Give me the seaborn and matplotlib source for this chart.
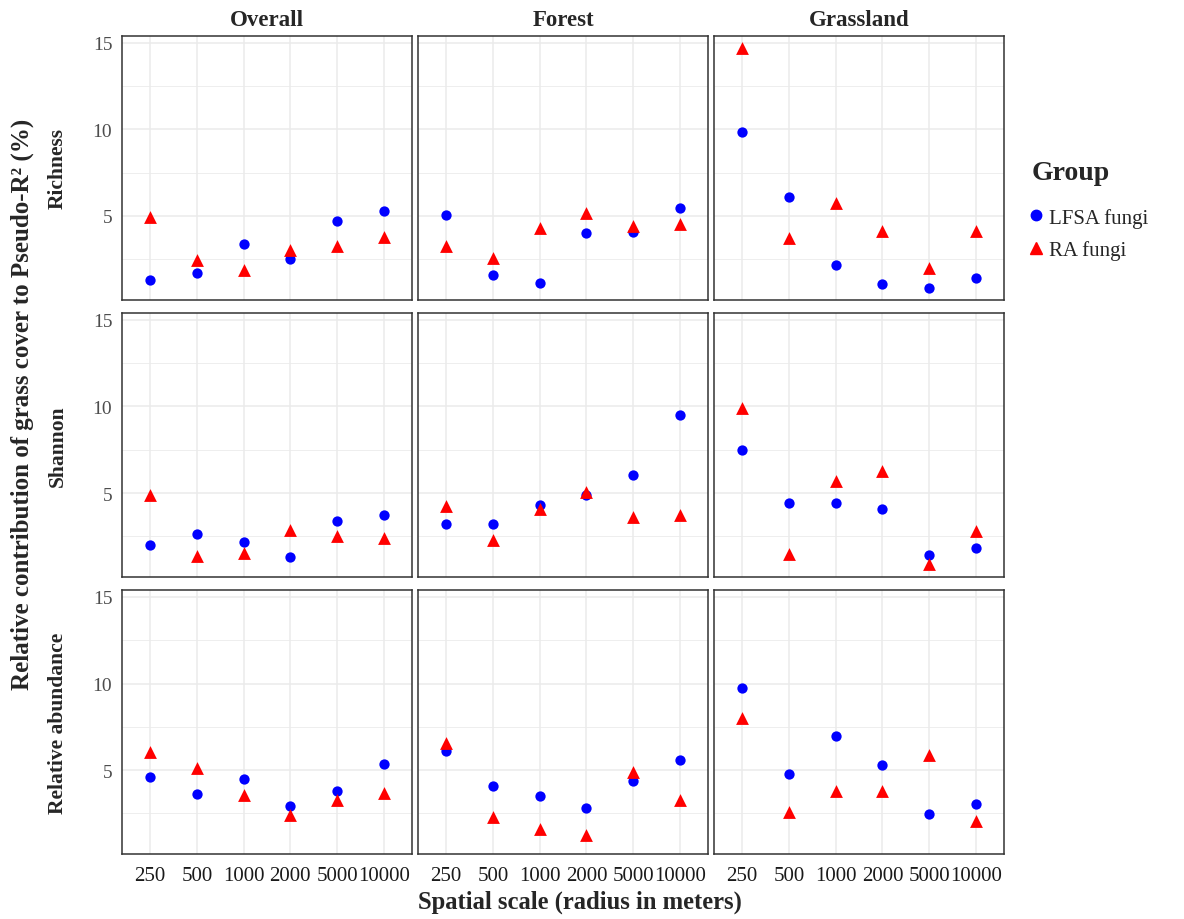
import numpy as np
import pandas as pd
import matplotlib.pyplot as plt
import seaborn as sns
from matplotlib.lines import Line2D

scales = ['250', '500', '1000', '2000', '5000', '10000']
habitats = ['Overall', 'Forest', 'Grassland']
metrics = ['Richness', 'Shannon', 'Relative abundance']
groups = ['LFSA fungi', 'RA fungi']

# values, one row per habitat (Overall, Forest, Grassland)
richness_lfsa = [[1.28, 1.72, 3.38, 2.52, 4.71, 5.27],
                 [5.06, 1.60, 1.13, 4.01, 4.05, 5.48],
                 [9.87, 6.12, 2.19, 1.10, 0.85, 1.44]]
richness_ra = [[4.95, 2.44, 1.87, 3.03, 3.28, 3.80],
               [3.28, 2.58, 4.33, 5.15, 4.43, 4.52],
               [14.70, 3.75, 5.73, 4.12, 2.02, 4.12]]
shannon_lfsa = [[1.98, 2.65, 2.18, 1.30, 3.40, 3.76],
                [3.23, 3.21, 4.33, 4.90, 6.06, 9.52],
                [7.50, 4.42, 4.42, 4.08, 1.44, 1.83]]
shannon_ra = [[4.88, 1.36, 1.55, 2.88, 2.50, 2.40],
              [4.23, 2.31, 4.08, 5.04, 3.60, 3.75],
              [9.94, 1.50, 5.71, 6.25, 0.90, 2.80]]
abund_lfsa = [[4.60, 3.63, 4.50, 2.90, 3.78, 5.36],
              [6.09, 4.08, 3.51, 2.79, 4.37, 5.57],
              [9.77, 4.79, 6.97, 5.32, 2.44, 3.03]]
abund_ra = [[6.05, 5.10, 3.57, 2.42, 3.26, 3.70],
            [6.56, 2.31, 1.60, 1.28, 4.90, 3.26],
            [8.00, 2.56, 3.80, 3.78, 5.90, 2.08]]

series = {('Richness', 'LFSA fungi'): richness_lfsa,
          ('Richness', 'RA fungi'): richness_ra,
          ('Shannon', 'LFSA fungi'): shannon_lfsa,
          ('Shannon', 'RA fungi'): shannon_ra,
          ('Relative abundance', 'LFSA fungi'): abund_lfsa,
          ('Relative abundance', 'RA fungi'): abund_ra}

rows = []
for (m, g), vals in series.items():
    for h, hv in zip(habitats, vals):
        for i, v in enumerate(hv):
            rows.append({'metric': m, 'group': g, 'habitat': h,
                         'scale': scales[i], 'pos': i, 'value': v})
df = pd.DataFrame(rows)

colors = {'LFSA fungi': '#0000FF', 'RA fungi': '#FF0000'}
markers = {'LFSA fungi': 'o', 'RA fungi': '^'}
sizes = {'LFSA fungi': 55, 'RA fungi': 85}

sns.set_style('white')
plt.rcParams['font.family'] = ['Liberation Serif', 'DejaVu Serif']

W, H = 1184, 920
fig, axes = plt.subplots(3, 3, figsize=(W / 100, H / 100), dpi=100,
                         sharex=True, sharey=True)
fig.subplots_adjust(left=122 / W, right=1004 / W, top=1 - 37 / H,
                    bottom=1 - 855 / H, wspace=0.021, hspace=0.05)

lo, hi = df['value'].min(), df['value'].max()
pad = 0.05 * (hi - lo)

for r, m in enumerate(metrics):
    for c, h in enumerate(habitats):
        ax = axes[r, c]
        for g in groups:
            sub = df[(df.metric == m) & (df.habitat == h) & (df.group == g)]
            sns.scatterplot(data=sub, x='pos', y='value', ax=ax,
                            color=colors[g], marker=markers[g], s=sizes[g],
                            linewidth=0, zorder=3, legend=False)
        ax.set_xlim(-0.6, len(scales) - 0.4)
        ax.set_ylim(lo - pad, hi + pad)
        ax.set_xticks(range(len(scales)))
        ax.set_xticklabels(scales)
        ax.set_yticks([5, 10, 15])
        ax.set_yticks([2.5, 7.5, 12.5], minor=True)
        ax.grid(True, which='major', color='#EBEBEB', linewidth=1.1, zorder=0)
        ax.grid(True, which='minor', axis='y', color='#EBEBEB', linewidth=0.6, zorder=0)
        ax.set_axisbelow(True)
        for sp in ax.spines.values():
            sp.set_color('#333333')
            sp.set_linewidth(1.1)
        ax.set_xlabel('')
        ax.set_ylabel('')
        ax.tick_params(axis='both', which='minor', length=0)
        ax.tick_params(axis='x', length=5 if r == 2 else 0, width=1.0,
                       color='#333333', labelsize=15, labelcolor='#1A1A1A', pad=4)
        ax.tick_params(axis='y', length=5 if c == 0 else 0, width=1.0,
                       color='#333333', labelsize=14, labelcolor='#4D4D4D', pad=2)
        if r == 0:
            ax.set_title(h, fontsize=16.5, fontweight='bold', pad=8)
    pos = axes[r, 0].get_position()
    fig.text(58 / W, (pos.y0 + pos.y1) / 2, m, rotation=90, ha='center',
             va='center', fontsize=15.5, fontweight='bold')

fig.text(22 / W, 1 - 404 / H,
         'Relative contribution of grass cover to Pseudo-R² (%)',
         rotation=90, ha='center', va='center', fontsize=18, fontweight='bold')
fig.text(580 / W, 1 - 902 / H, 'Spatial scale (radius in meters)',
         ha='center', va='center', fontsize=17.7, fontweight='bold')

fig.text(1032 / W, 1 - 174 / H, 'Group', ha='left', va='center',
         fontsize=20, fontweight='bold')
handles = [Line2D([], [], linestyle='', marker=markers[g], color=colors[g],
                  markersize=7.5 if g == groups[0] else 9) for g in groups]
leg = fig.legend(handles, groups, loc='center left',
                 bbox_to_anchor=(1013 / W, 1 - 235 / H), frameon=False,
                 fontsize=15, handletextpad=0.05, handlelength=1.2,
                 labelspacing=0.6, borderpad=0)

fig.savefig('out.png', dpi=100)
